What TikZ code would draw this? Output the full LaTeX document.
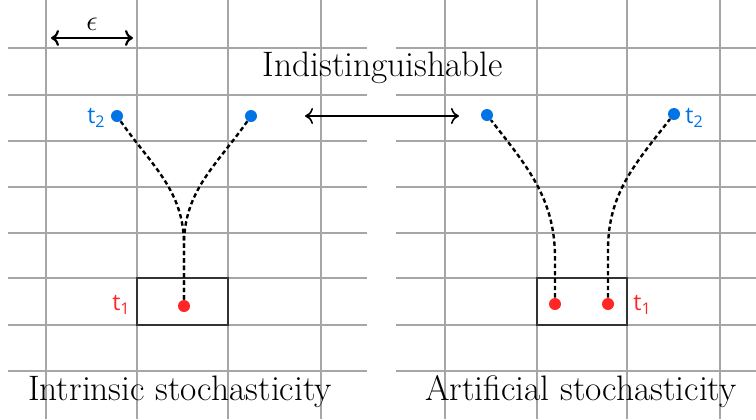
\documentclass[tikz,border=0pt]{standalone}
\usepackage{fontspec}
\newfontfamily\labelfont{Open Sans}
\usetikzlibrary{arrows,arrows.meta,positioning,calc}
\def\gridcolor{black!35}
\def\dotsize{6pt}

\tikzset{
  gridline/.style={draw=\gridcolor, line width=0.55pt},
  startdot/.style={circle, fill=red!85, inner sep=0pt, minimum size=\dotsize},
  enddot/.style={circle, fill=blue!50!cyan!90!black, inner sep=0pt, minimum size=\dotsize},
  traj/.style={line width=1.2pt, dash pattern=on 2.2pt off 1.5pt},
  tlabel/.style={font=\labelfont\fontsize{11.5}{13}\selectfont, inner sep=1pt},
  region/.style={draw=black!80, line width=0.8pt},
  caption/.style={font=\fontsize{17.7}{21}\selectfont},
  span/.style={{To[length=4pt,width=8pt]}-{To[length=4pt,width=8pt]}}
}

\begin{document}
\begin{tikzpicture}[x=0.5pt, y=-0.5pt]
  \useasboundingbox (0,0) rectangle (756,419);

  % grids
  \foreach \gx in {46,137,228,321,445,537,627,720}
    \draw[gridline] (\gx,0) -- (\gx,419);
  \foreach \gy in {48,95,141,187,233,278,325,371} {
    \draw[gridline] (8,\gy) -- (367,\gy);
    \draw[gridline] (396,\gy) -- (756,\gy);
  }

  % epsilon
  \coordinate (EpsS) at (51,38);
  \coordinate (EpsE) at (133,38);
  \draw[span, line width=1.1pt] (EpsS) -- (EpsE) node[midway, above=0pt] {\Large$\epsilon$};

  % intrinsic
  \draw[region] (137,278) rectangle (228,325);
  \node[startdot] (IA) at (184,306) {};
  \node[enddot] (IL) at (117,116) {};
  \node[enddot] (IR) at (251,116) {};
  \coordinate (IJ) at (184,245);
  \draw[traj] (IA) -- (IJ) to[out=90,in=-55] (IL);
  \draw[traj] (IA) -- (IJ) to[out=90,in=-125] (IR);
  \node[tlabel, text=red!85, anchor=east] (I-t1) at (133,305) {t\textsubscript{1}};
  \node[tlabel, text=blue!50!cyan!90!black, anchor=east] (I-t2) at (108,118) {t\textsubscript{2}};

  % artificial
  \draw[region] (537,278) rectangle (627,325);
  \node[startdot] (AA) at (555,304) {};
  \node[startdot] (AB) at (608,304) {};
  \node[enddot] (AL) at (487,115) {};
  \node[enddot] (AR) at (674,114) {};
  \coordinate (AJ1) at (555,258);
  \coordinate (AJ2) at (608,250);
  \draw[traj] (AA) -- (AJ1) to[out=90,in=-52] (AL);
  \draw[traj] (AB) -- (AJ2) to[out=90,in=-128] (AR);
  \node[tlabel, text=red!85, anchor=west] (A-t1) at (631,305) {t\textsubscript{1}};
  \node[tlabel, text=blue!50!cyan!90!black, anchor=west] (A-t2) at (683,118) {t\textsubscript{2}};

  % indistinguishable
  \coordinate (IndL) at (305,116);
  \coordinate (IndR) at (459,116);
  \draw[span, line width=0.8pt] (IndL) -- (IndR);
  \node[caption] (ind-text) at (383,68) {Indistinguishable};

  \node[caption] (intr-text) at (180,392) {Intrinsic stochasticity};
  \node[caption] (art-text) at (581,392) {Artificial stochasticity};
\end{tikzpicture}
\end{document}
